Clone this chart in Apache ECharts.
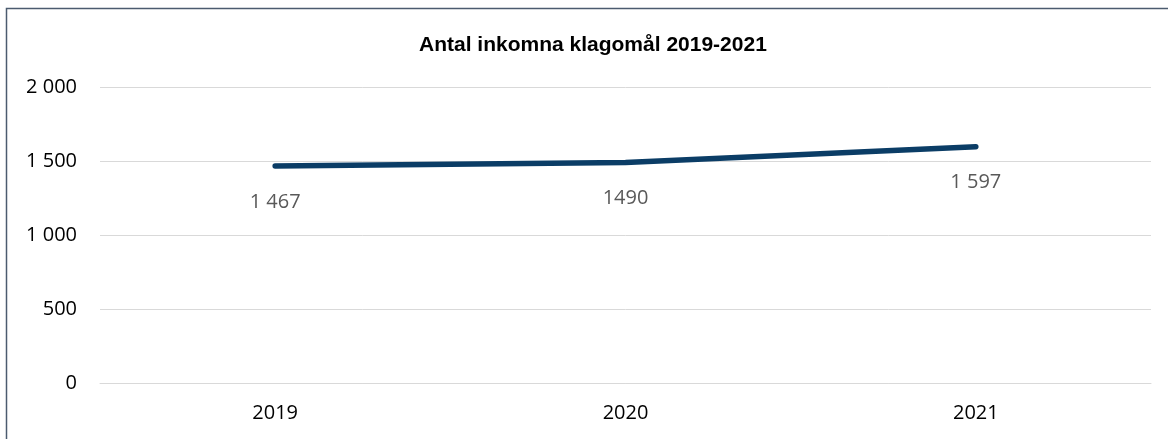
<!DOCTYPE html>
<html>
<head>
<meta charset="utf-8">
<script src="https://cdn.jsdelivr.net/npm/echarts@6/dist/echarts.min.js"></script>
<style>
html,body{margin:0;padding:0;background:#fff;}
#chart{width:1168px;height:439px;}
</style>
</head>
<body>
<div id="chart"></div>
<script>
const categories = ['2019', '2020', '2021'];
const values = [1467, 1490, 1597];
const valueLabels = ['1 467', '1490', '1 597'];
const yTicks = { min: 0, max: 2000, interval: 500 };

function fmtThousands(v) {
  return String(v).replace(/\B(?=(\d{3})+(?!\d))/g, ' ');
}

const chart = echarts.init(document.getElementById('chart'), null, { renderer: 'canvas' });
chart.setOption({
  backgroundColor: '#ffffff',
  animation: false,
  title: {
    text: 'Antal inkomna klagomål 2019-2021',
    left: 414,
    top: 30,
    textStyle: { fontFamily: 'Liberation Sans', fontWeight: 'bold', fontSize: 21, color: '#000000' }
  },
  graphic: [{
    type: 'rect',
    shape: { x: 6.5, y: 8.5, width: 1300, height: 600 },
    style: { fill: 'none', stroke: '#4b5b6f', lineWidth: 1.5 },
    silent: true
  }],
  grid: { left: 100, right: 17, top: 87, bottom: 56 },
  xAxis: {
    type: 'category',
    data: categories,
    boundaryGap: true,
    axisLine: { show: true, lineStyle: { color: '#d9d9d9', width: 1 } },
    axisTick: { show: false },
    axisLabel: { color: '#000000', fontFamily: 'Open Sans', fontSize: 20, margin: 20 }
  },
  yAxis: {
    type: 'value',
    min: yTicks.min,
    max: yTicks.max,
    interval: yTicks.interval,
    axisLine: { show: false },
    axisTick: { show: false },
    splitLine: { lineStyle: { color: '#d9d9d9', width: 1 } },
    axisLabel: {
      color: '#000000', fontFamily: 'Open Sans', fontSize: 20, margin: 23,
      formatter: v => fmtThousands(v)
    }
  },
  series: [{
    type: 'line',
    data: values,
    symbol: 'circle',
    symbolSize: 4,
    showSymbol: true,
    itemStyle: { color: '#0b3d66' },
    lineStyle: { color: '#0b3d66', width: 5.5, cap: 'round', join: 'round' },
    label: {
      show: true,
      position: 'bottom',
      distance: 24,
      color: '#595959',
      fontFamily: 'Open Sans',
      fontSize: 20,
      formatter: p => valueLabels[p.dataIndex]
    },
    labelLayout: { hideOverlap: false }
  }]
});
</script>
</body>
</html>
